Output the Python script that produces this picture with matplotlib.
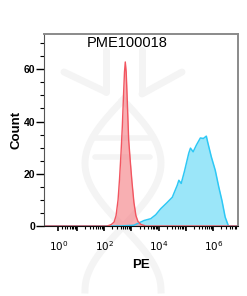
"""
Flow cytometry overlay histogram: isotype control (red) vs PME100018 stained (blue)
"""
import numpy as np
import matplotlib
matplotlib.use("Agg")
import matplotlib.pyplot as plt
from matplotlib.ticker import FixedLocator, NullFormatter

plt.rcParams['font.family'] = ['Liberation Sans', 'DejaVu Sans']

# data (PE intensity, count)
red_pe = [-3, 100, 128, 180, 231, 273, 323, 366, 415, 463, 512, 556, 595, 642,
          703, 791, 920, 1043, 1233, 1458, 1723, 2213, 3368, 7.8e6]
red_count = [0, 0, 0, 0.5, 1.5, 4, 10, 18, 28, 38, 50, 59, 62.8, 59,
             48, 33, 24, 17, 9, 4, 1.8, 0.6, 0, 0]

blue_pe = [-3, 100, 415, 1233, 2917, 5117, 7780, 11830, 19540, 31490, 47860, 54700,
           66840, 88130, 126400, 145800, 182800, 241000, 336800, 432600, 556200,
           620500, 845900, 1183000, 1585000, 2072000, 2730000, 3599000, 7.8e6]
blue_count = [0, 0, 0, 0.3, 2.1, 2.8, 4.3, 6.6, 8.8, 11, 15.6, 17.5,
              16.3, 21, 27.9, 29.8, 28.4, 31, 33.7, 33.5, 34.4,
              32.2, 26.5, 21.3, 15, 9.8, 3.4, 0, 0]

title = "PME100018"
decades = [0, 1, 2, 3, 4, 5, 6]
labelled = [0, 2, 4, 6]


# biexponential-like display scale
def fwd(x):
    return np.arcsinh(np.asarray(x) / 3.0)


def inv(u):
    return 3.0 * np.sinh(np.asarray(u))


fig = plt.figure(figsize=(2.47, 2.96), dpi=100)

# faint watermark behind the plot
bg = fig.add_axes([0, 0, 1, 1], zorder=-1)
bg.set_xlim(0, 247)
bg.set_ylim(296, 0)
bg.axis('off')
wm = '#f4f4f4'
bg.plot([64, 106], [72, 92], color=wm, lw=5, solid_capstyle='round')
bg.plot([182, 142], [72, 94], color=wm, lw=5, solid_capstyle='round')
bg.plot([106, 106], [50, 92], color=wm, lw=5, solid_capstyle='round')
bg.plot([142, 142], [50, 92], color=wm, lw=5, solid_capstyle='round')
t = np.linspace(0, 1, 80)
hy = 100 + 190 * t
bg.plot(123 - 38 * np.sin(np.pi * 1.5 * t), hy, color=wm, lw=5)
bg.plot(123 + 38 * np.sin(np.pi * 1.5 * t), hy, color=wm, lw=5)
for yy in [138, 157]:
    bg.plot([95, 150], [yy, yy], color=wm, lw=4, solid_capstyle='round')

ax = fig.add_axes([0.178, 0.2365, 0.784, 0.6486])
ax.patch.set_alpha(0)
ax.set_xscale('function', functions=(fwd, inv))

ax.fill_between(blue_pe, blue_count, color='#66d9f7', alpha=0.65, lw=0)
ax.plot(blue_pe, blue_count, color='#2ec8f5', lw=1.1)
ax.fill_between(red_pe, red_count, color='#f47a80', alpha=0.6, lw=0)
ax.plot(red_pe, red_count, color='#f25560', lw=1.0)

ax.set_xlim(-3, 7.8e6)
ax.set_ylim(0, 73.5)

# ticks
ax.yaxis.set_major_locator(FixedLocator([0, 20, 40, 60]))
ax.yaxis.set_minor_locator(FixedLocator(np.arange(0, 75, 5)))
ax.xaxis.set_major_locator(FixedLocator([10.0 ** k for k in decades]))
ax.xaxis.set_minor_locator(FixedLocator([m * 10.0 ** k for k in decades for m in range(2, 10)]))
ax.xaxis.set_minor_formatter(NullFormatter())
ax.set_xticklabels(["$10^{%d}$" % k if k in labelled else "" for k in decades])

ax.tick_params(axis='y', which='major', length=5.5, width=1, labelsize=7.5, pad=1)
ax.tick_params(axis='y', which='minor', length=3, width=0.8)
ax.tick_params(axis='x', which='major', length=3.5, width=1.2, labelsize=7.5, pad=6)
ax.tick_params(axis='x', which='minor', length=2, width=0.8)
for lab in ax.get_yticklabels():
    lab.set_fontweight('bold')

for side in ['top', 'right']:
    ax.spines[side].set_color('#8a8a8a')
    ax.spines[side].set_linewidth(1.4)
ax.spines['left'].set_color('#555555')
ax.spines['bottom'].set_color('#111111')

ax.set_ylabel("Count", fontsize=9.5, fontweight='bold', labelpad=1)
ax.set_xlabel("PE", fontsize=9.5, fontweight='bold', labelpad=4)
ax.text(0.429, 0.99, title, transform=ax.transAxes, ha='center', va='top', fontsize=10.5)

fig.savefig("out.png", dpi=100)
plt.close()
